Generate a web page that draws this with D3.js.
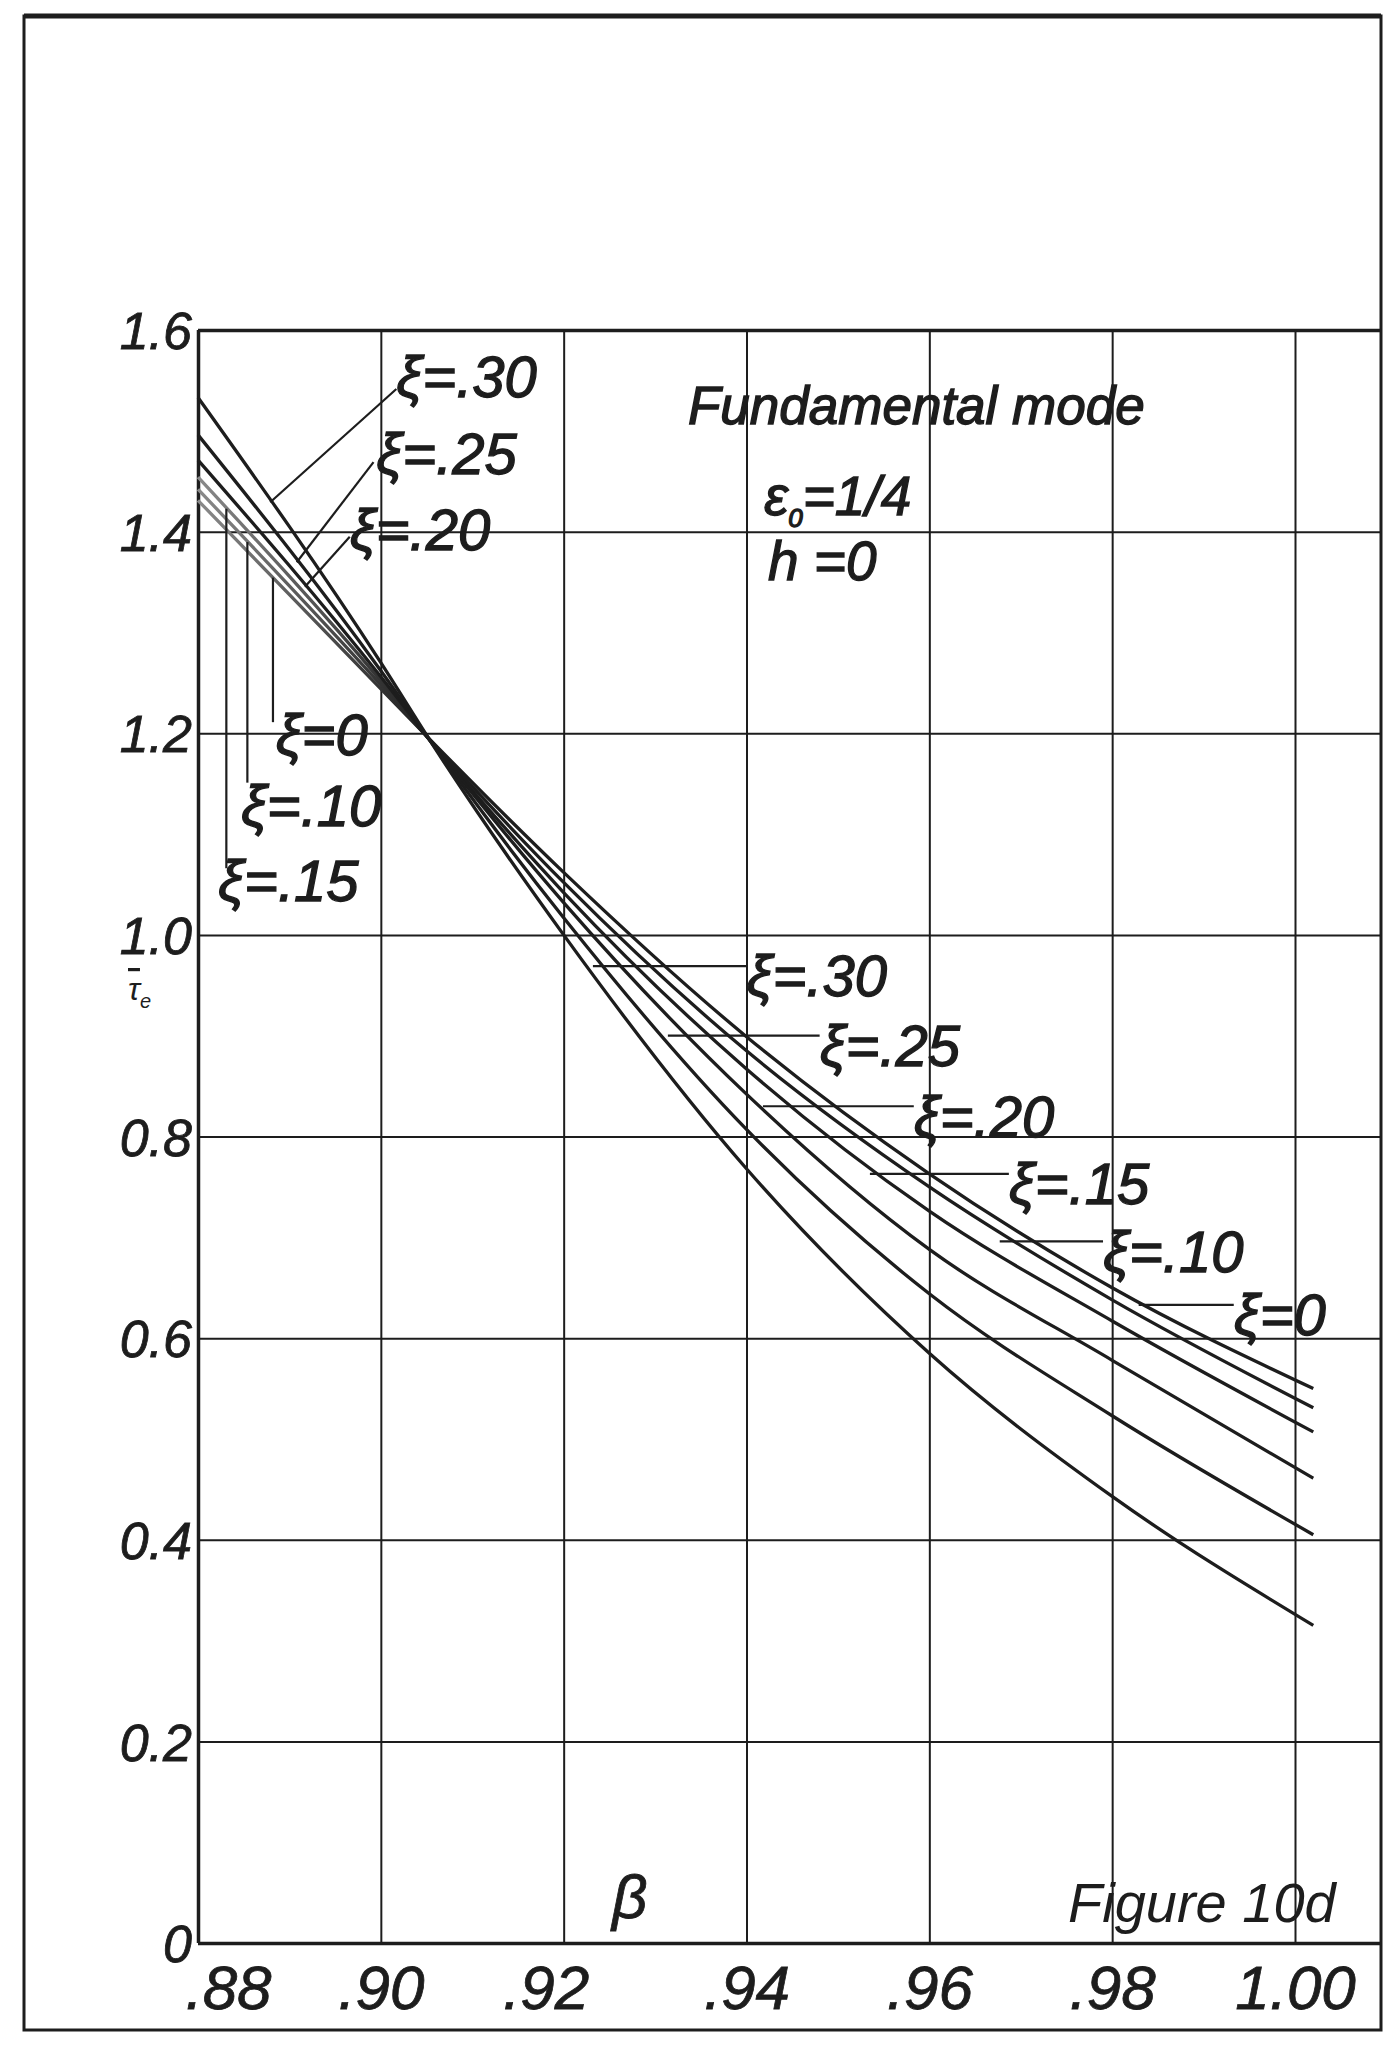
<!DOCTYPE html>
<html>
<head>
<meta charset="utf-8">
<script src="https://cdn.jsdelivr.net/npm/d3@7"></script>
<style>
  body { margin: 0; background: #fff; }
  svg text { font-family: "Liberation Sans", "DejaVu Sans", sans-serif; font-style: italic; fill: #1d1d1d; }
</style>
</head>
<body>
<div id="chart"></div>
<script>
// Figure 10d - fundamental mode, tau_e against beta for several xi

// values
var betaTicks = [0.88, 0.90, 0.92, 0.94, 0.96, 0.98, 1.00]
var betaTickLabels = [".88", ".90", ".92", ".94", ".96", ".98", "1.00"]
var tauTicks = [0, 0.2, 0.4, 0.6, 0.8, 1.0, 1.2, 1.4, 1.6]
var tauTickLabels = ["0", "0.2", "0.4", "0.6", "0.8", "1.0", "1.2", "1.4", "1.6"]

var beta = [0.88, 0.90, 0.906, 0.92, 0.94, 0.96, 0.98, 1.002]
var xi0  = [1.431, 1.244, 1.188, 1.062, 0.899, 0.763, 0.650, 0.550]
var xi10 = [1.442, 1.248, 1.187, 1.052, 0.885, 0.750, 0.638, 0.531]
var xi15 = [1.454, 1.252, 1.186, 1.042, 0.867, 0.726, 0.617, 0.507]
var xi20 = [1.471, 1.256, 1.186, 1.032, 0.842, 0.688, 0.578, 0.461]
var xi25 = [1.496, 1.262, 1.185, 1.017, 0.807, 0.644, 0.523, 0.405]
var xi30 = [1.533, 1.270, 1.184, 1.000, 0.768, 0.585, 0.443, 0.315]

var xiNames = ["0", ".10", ".15", ".20", ".25", ".30"]
var xiSeries = [xi0, xi10, xi15, xi20, xi25, xi30]

var ink = "#1d1d1d"

var svg = d3.select("#chart")
    .append("svg")
    .attr("width", 1389)
    .attr("height", 2046)

// scales: beta across, tau up
let xScale = d3.scaleLinear()
    .domain([0.88, 1.00])
    .range([198, 1295])

let yScale = d3.scaleLinear()
    .domain([0, 1.6])
    .range([1943, 330])

// the grid runs out to the page frame on the right
var xRight = 1381

// page frame
svg.append("rect")
    .attr("x", 24).attr("y", 16)
    .attr("width", xRight - 24).attr("height", 2030 - 16)
    .attr("fill", "none")
    .attr("stroke", ink)
    .attr("stroke-width", 3)
svg.append("line")
    .attr("x1", 24).attr("x2", xRight).attr("y1", 16).attr("y2", 16)
    .attr("stroke", ink).attr("stroke-width", 5)

// horizontal grid (axis ticks stretched across)
svg.append("g")
    .attr("transform", `translate(${xScale(0.88)},0)`)
    .call(d3.axisLeft(yScale).tickValues(tauTicks).tickSize(-(xRight - xScale(0.88))).tickFormat(""))
    .call(g => g.select(".domain").remove())
    .selectAll("line")
    .attr("stroke", ink)
    .attr("stroke-width", d => (d == 0 || d == 1.6) ? 3.5 : 2)

// vertical grid
svg.append("g")
    .attr("transform", `translate(0,${yScale(0)})`)
    .call(d3.axisBottom(xScale).tickValues(betaTicks).tickSize(-(yScale(0) - yScale(1.6))).tickFormat(""))
    .call(g => g.select(".domain").remove())
    .selectAll("line")
    .attr("stroke", ink)
    .attr("stroke-width", d => d == 0.88 ? 3.5 : 2)

// tick labels
var yAxis = svg.append("g")
    .attr("transform", `translate(${xScale(0.88) - 6},0)`)
    .call(d3.axisLeft(yScale).tickValues(tauTicks).tickSize(0).tickPadding(0)
        .tickFormat((d, i) => tauTickLabels[i]))
yAxis.select(".domain").remove()
yAxis.selectAll("text")
    .style("font-size", "52px")
    .style("stroke", ink).style("stroke-width", 0.8)
    .attr("dy", "0.36em")
    .attr("fill", ink)

var xAxis = svg.append("g")
    .attr("transform", `translate(0,${yScale(0)})`)
    .call(d3.axisBottom(xScale).tickValues(betaTicks).tickSize(0).tickPadding(0)
        .tickFormat((d, i) => betaTickLabels[i]))
xAxis.select(".domain").remove()
xAxis.selectAll("text")
    .style("font-size", "62px")
    .style("stroke", ink).style("stroke-width", 0.8)
    .attr("y", 66)
    .attr("dy", 0)
    .attr("dx", (d, i) => i == 0 ? 30 : (i == 2 ? -18 : 0))
    .attr("fill", ink)

// lower curves fade to grey at the left edge of the scan
var grad = svg.append("defs").append("linearGradient")
    .attr("id", "fade")
    .attr("gradientUnits", "userSpaceOnUse")
    .attr("x1", xScale(0.88)).attr("x2", xScale(0.905))
    .attr("y1", 0).attr("y2", 0)
grad.append("stop").attr("offset", 0).attr("stop-color", "#8a8a8a")
grad.append("stop").attr("offset", 1).attr("stop-color", ink)

var line = d3.line()
    .x((d, i) => xScale(beta[i]))
    .y(d => yScale(d))
    .curve(d3.curveMonotoneX)

svg.append("g")
    .selectAll("path")
    .data(xiSeries).enter()
    .append("path")
    .attr("d", line)
    .attr("fill", "none")
    .attr("stroke", (d, i) => i < 3 ? "url(#fade)" : ink)
    .attr("stroke-width", 3.3)

// tau on a series at some beta (for where a leader meets its curve)
function tauAt(series, b) {
    var i = d3.bisectRight(beta, b) - 1
    i = Math.max(0, Math.min(i, beta.length - 2))
    var t = (b - beta[i]) / (beta[i + 1] - beta[i])
    return series[i] + t * (series[i + 1] - series[i])
}

// leaders: beta where it meets its curve, far end, and text baseline-left, in chart units
var leaders = [
    { k: 5, b0: 0.8879, b1: 0.9017, t1: 1.5415, tb: 0.9017, tt: 1.534 },
    { k: 4, b0: 0.8908, b1: 0.8992, t1: 1.469, tb: 0.8995, tt: 1.457 },
    { k: 3, b0: 0.8917, b1: 0.8966, t1: 1.395, tb: 0.8966, tt: 1.382 },
    { k: 0, b0: 0.8882, b1: 0.8882, t1: 1.211, tb: 0.8885, tt: 1.178 },
    { k: 1, b0: 0.8854, b1: 0.8854, t1: 1.151, tb: 0.8847, tt: 1.108 },
    { k: 2, b0: 0.8831, b1: 0.8831, t1: 1.066, tb: 0.8822, tt: 1.034 },
    { k: 5, b0: 0.9232, b1: 0.9400, t0: 0.969, t1: 0.969, tb: 0.9400, tt: 0.939 },
    { k: 4, b0: 0.9314, b1: 0.9480, t0: 0.900, t1: 0.900, tb: 0.9480, tt: 0.870 },
    { k: 3, b0: 0.9418, b1: 0.9583, t0: 0.830, t1: 0.830, tb: 0.9583, tt: 0.800 },
    { k: 2, b0: 0.9535, b1: 0.9687, t0: 0.763, t1: 0.763, tb: 0.9687, tt: 0.733 },
    { k: 1, b0: 0.9677, b1: 0.9790, t0: 0.696, t1: 0.696, tb: 0.9790, tt: 0.666 },
    { k: 0, b0: 0.9829, b1: 0.9933, t0: 0.633, t1: 0.633, tb: 0.9933, tt: 0.603 }
]

svg.append("g")
    .selectAll("line")
    .data(leaders).enter()
    .append("line")
    .attr("x1", d => xScale(d.b0))
    .attr("y1", d => yScale(d.t0 != null ? d.t0 : tauAt(xiSeries[d.k], d.b0)))
    .attr("x2", d => xScale(d.b1))
    .attr("y2", d => yScale(d.t1))
    .attr("stroke", ink)
    .attr("stroke-width", 2.2)

svg.append("g")
    .selectAll("text")
    .data(leaders).enter()
    .append("text")
    .attr("x", d => xScale(d.tb))
    .attr("y", d => yScale(d.tt))
    .style("font-size", "58px")
    .style("stroke", ink).style("stroke-width", 1.3)
    .text(d => "ξ=" + xiNames[d.k])

// headings
svg.append("text")
    .attr("x", 688).attr("y", 424)
    .style("font-size", "53px")
    .style("stroke", ink).style("stroke-width", 1.4)
    .text("Fundamental mode")

var eps = svg.append("text")
    .attr("x", 764).attr("y", 515)
    .style("font-size", "55px")
    .style("stroke", ink).style("stroke-width", 1.3)
eps.append("tspan").text("ε")
eps.append("tspan").attr("dy", 12).style("font-size", "26px").text("0")
eps.append("tspan").attr("dy", -12).text("=1/4")

svg.append("text")
    .attr("x", 768).attr("y", 580)
    .style("font-size", "55px")
    .style("stroke", ink).style("stroke-width", 1.3)
    .text("h =0")

// axis names
svg.append("text")
    .attr("x", 612).attr("y", 1918)
    .style("font-size", "62px")
    .style("stroke", ink).style("stroke-width", 0.8)
    .text("β")

var tau = svg.append("text")
    .attr("x", 128).attr("y", 1000)
    .style("font-size", "32px")
tau.append("tspan").style("text-decoration", "overline").text("τ")
tau.append("tspan").attr("dy", 8).style("font-size", "20px").text("e")

svg.append("text")
    .attr("x", 1068).attr("y", 1922)
    .style("font-size", "56px")
    .text("Figure 10d")
</script>
</body>
</html>
